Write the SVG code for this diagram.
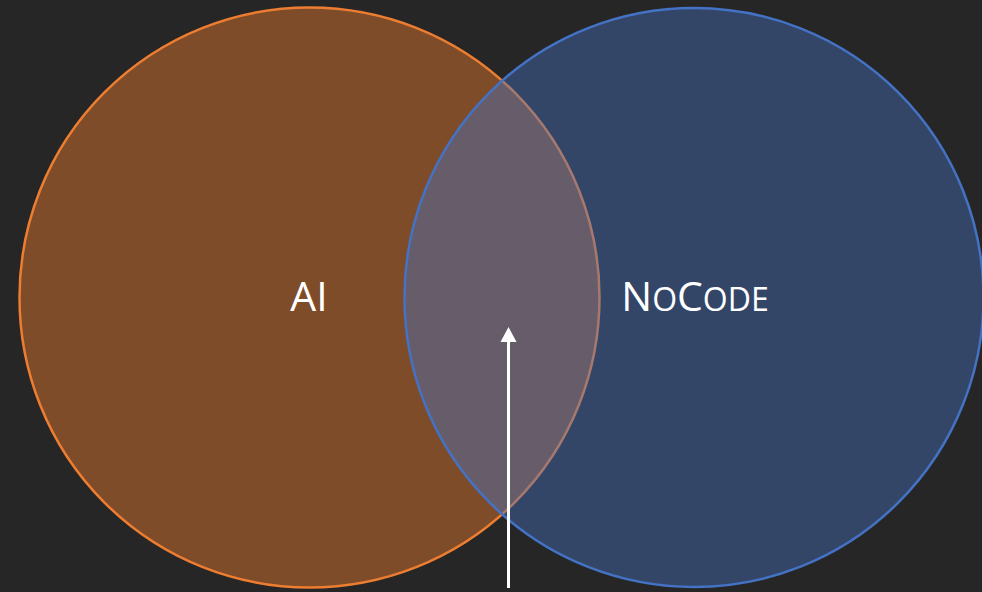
<svg xmlns="http://www.w3.org/2000/svg" width="982" height="592" viewBox="0 0 982 592">
<defs>
<style>
.lbl{font-family:"Open Sans","Liberation Sans",sans-serif;fill:#FFFFFF;font-size:41px;text-anchor:middle}
.sc{font-size:32px}
</style>
</defs>
<rect x="0" y="0" width="982" height="592" fill="#262626"/>
<g id="ai">
<circle cx="309.5" cy="297.5" r="290" fill="#ED7D31" fill-opacity="0.45" stroke="#ED7D31" stroke-width="2.5"/>
</g>
<g id="nocode">
<circle cx="694" cy="297.5" r="289.5" fill="#4472C4" fill-opacity="0.42" stroke="#4472C4" stroke-width="2.5"/>
</g>
<g id="labels">
<text class="lbl" x="309" y="311">AI</text>
<text class="lbl" x="695" y="311">N<tspan class="sc">O</tspan>C<tspan class="sc">ODE</tspan></text>
</g>
<g id="connectors">
<line x1="508.5" y1="588" x2="508.5" y2="342" stroke="#FFFFFF" stroke-width="3"/>
<path d="M500.5,342 L508.5,327 L516.5,342 Z" fill="#FFFFFF"/>
</g>
</svg>
